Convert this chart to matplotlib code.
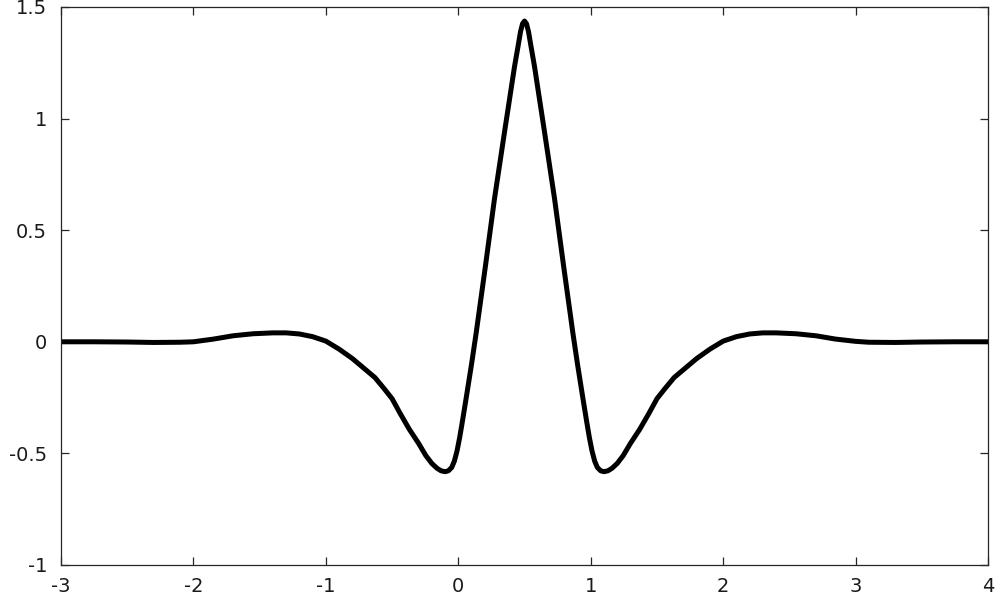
import matplotlib
matplotlib.use("Agg")
import matplotlib.pyplot as plt

# curve values
x_vals = [-3.0, -2.75, -2.5, -2.3, -2.1, -2.0, -1.85, -1.7, -1.55, -1.4, -1.3, -1.2, -1.1, -1.0,
          -0.9, -0.8, -0.72, -0.63, -0.56, -0.5, -0.44, -0.37, -0.3, -0.245, -0.2, -0.16, -0.13,
          -0.1, -0.075, -0.05, -0.03, -0.01, 0.01, 0.03, 0.06, 0.1, 0.135, 0.205, 0.273, 0.349,
          0.425, 0.45, 0.47, 0.485, 0.5, 0.515, 0.53, 0.55, 0.575, 0.651, 0.727, 0.795, 0.865,
          0.9, 0.94, 0.97, 0.99, 1.01, 1.03, 1.05, 1.075, 1.1, 1.13, 1.16, 1.2, 1.245, 1.3,
          1.37, 1.44, 1.5, 1.56, 1.63, 1.72, 1.8, 1.9, 2.0, 2.1, 2.2, 2.3, 2.4, 2.55, 2.7,
          2.85, 3.0, 3.1, 3.3, 3.5, 3.75, 4.0]
y_vals = [0.0, 0.0, -0.001, -0.003, -0.002, 0.0, 0.012, 0.027, 0.036, 0.040, 0.040, 0.035,
          0.023, 0.003, -0.033, -0.075, -0.115, -0.16, -0.21, -0.255, -0.32, -0.392, -0.455,
          -0.51, -0.545, -0.567, -0.578, -0.582, -0.578, -0.563, -0.535, -0.49, -0.43, -0.36,
          -0.25, -0.10, 0.04, 0.34, 0.64, 0.94, 1.235, 1.32, 1.39, 1.425, 1.437, 1.425, 1.39,
          1.32, 1.235, 0.94, 0.64, 0.34, 0.04, -0.10, -0.25, -0.36, -0.43, -0.49, -0.535,
          -0.563, -0.578, -0.582, -0.578, -0.567, -0.545, -0.51, -0.455, -0.392, -0.32,
          -0.255, -0.21, -0.16, -0.115, -0.075, -0.033, 0.003, 0.023, 0.035, 0.040, 0.040,
          0.036, 0.027, 0.012, 0.002, -0.002, -0.003, -0.001, 0.0, 0.0]

x_ticks = [-3, -2, -1, 0, 1, 2, 3, 4]
y_ticks = [-1, -0.5, 0, 0.5, 1, 1.5]
y_labels = ["-1", "-0.5", "0", "0.5", "1", "1.5"]

plt.rcParams['font.family'] = ['DejaVu Sans']
plt.rcParams['axes.unicode_minus'] = False

fig = plt.figure(figsize=(9.97, 5.98), dpi=100)
ax = fig.add_axes([0.0612, 0.0552, 0.9298, 0.9331])

ax.plot(x_vals, y_vals, color='black', linewidth=3.6, solid_joinstyle='round')

ax.set_xlim(-3, 4)
ax.set_ylim(-1, 1.5)
ax.set_xticks(x_ticks)
ax.set_xticklabels([str(t) for t in x_ticks])
ax.set_yticks(y_ticks)
ax.set_yticklabels(y_labels)

edge = '#262626'
for s in ax.spines.values():
    s.set_color(edge)
    s.set_linewidth(0.9)
ax.tick_params(direction='in', length=6, width=0.9, color=edge, labelsize=14,
               labelcolor='#1a1a1a', top=True, right=True)
ax.tick_params(axis='x', pad=9)
ax.tick_params(axis='y', pad=10)

fig.savefig('out.png', dpi=100)
